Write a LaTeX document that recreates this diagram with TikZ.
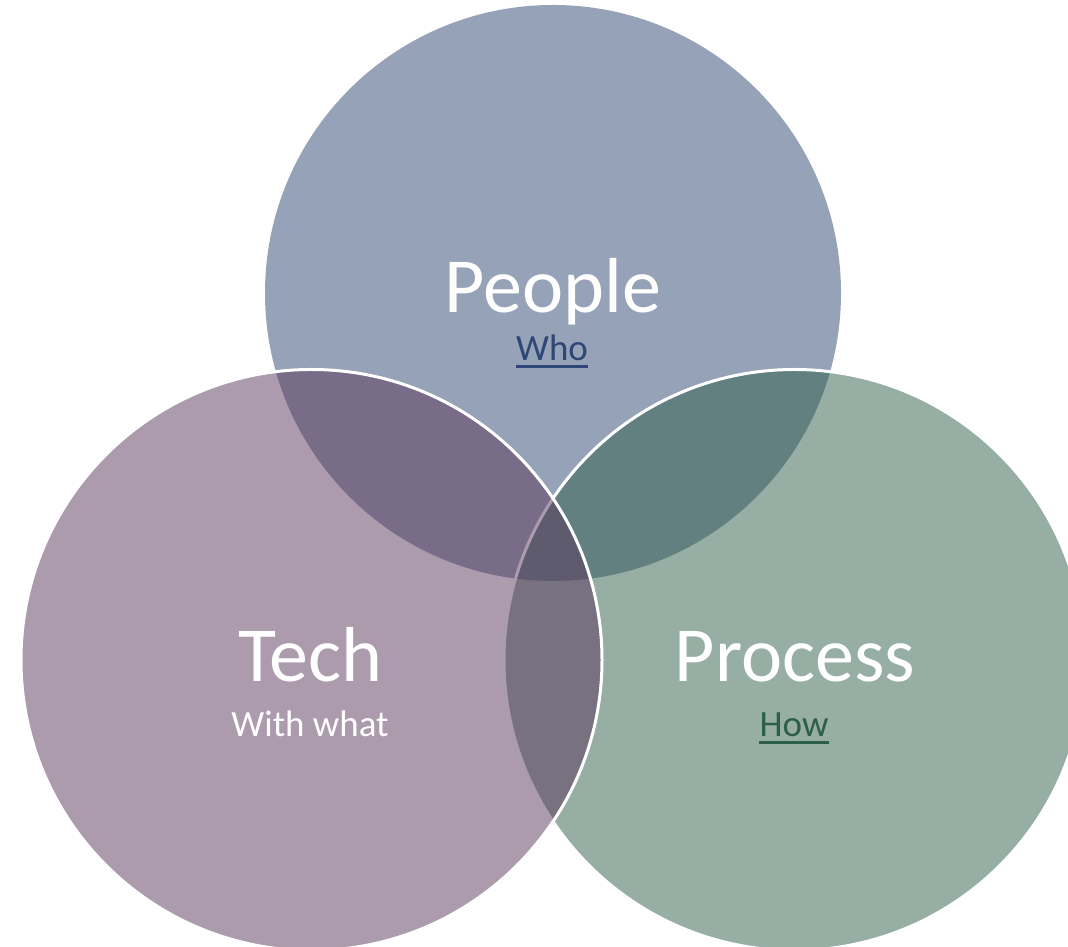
\documentclass[tikz,border=0pt]{standalone}
\usepackage{fontspec}
\setmainfont{Carlito}
\definecolor{peoplec}{RGB}{47,71,113}
\definecolor{techc}{RGB}{91,55,93}
\definecolor{processc}{RGB}{49,95,77}
\definecolor{whoc}{RGB}{46,71,118}
\definecolor{howc}{RGB}{45,94,75}
\tikzset{
  venn/.style={circle, inner sep=0pt, outer sep=0pt, minimum size=#1, fill opacity=0.5, draw opacity=1},
  bigtitle/.style={anchor=base, inner sep=0pt, text=white, font=\fontsize{78}{80}\selectfont},
  subtitle/.style={anchor=base, inner sep=0pt, font=\fontsize{37}{39}\selectfont},
  uline/.style={line width=3pt}
}
\begin{document}
\begin{tikzpicture}[x=1pt,y=1pt]
\useasboundingbox (0,0) rectangle (1068,947);
\clip (0,0) rectangle (1068,947);
\fill[white] (0,0) rectangle (1068,947);
% circles (y = 947 - pixel y)
\node[venn=576pt, fill=peoplec] (people) at (553,654) {};
\node[venn=581pt, fill=processc, draw=white, line width=3pt] (process) at (794.5,287) {};
\node[venn=581pt, fill=techc, draw=white, line width=3pt] (tech) at (311.5,287) {};
% labels
\node[bigtitle] (peoplet) at (553,634) {People};
\node[subtitle, text=whoc] (who) at (552,586) {Who};
\draw[uline, whoc] ([yshift=-5.5pt]who.base west) -- ([yshift=-5.5pt]who.base east);
\node[bigtitle] (techt) at (310,265) {Tech};
\node[subtitle, text=white] (withwhat) at (310,210) {With what};
\node[bigtitle] (processt) at (795,265) {Process};
\node[subtitle, text=howc] (how) at (794,210) {How};
\draw[uline, howc] ([yshift=-5.5pt]how.base west) -- ([yshift=-5.5pt]how.base east);
\end{tikzpicture}
\end{document}
